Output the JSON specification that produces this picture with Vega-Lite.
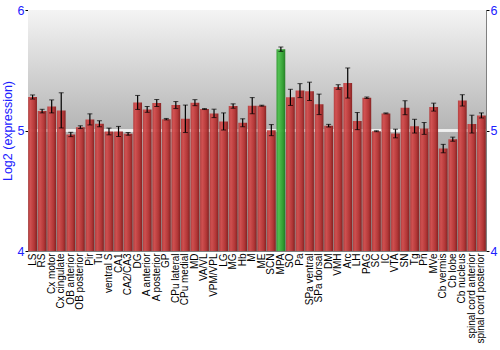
{
  "$schema": "https://vega.github.io/schema/vega-lite/v6.json",
  "width": 458,
  "height": 241,
  "autosize": {"type": "none"},
  "padding": {"left": 28, "top": 10, "right": 14, "bottom": 99},
  "background": "white",
  "config": {
    "font": "Liberation Sans",
    "view": {"stroke": "#808080", "strokeWidth": 1}
  },
  "data": {
    "values": [
      {"region": "LS", "mean": 5.278, "err": 0.017},
      {"region": "RS", "mean": 5.161, "err": 0.015},
      {"region": "Cx motor", "mean": 5.2, "err": 0.054},
      {"region": "Cx cingulate", "mean": 5.167, "err": 0.146},
      {"region": "OB anterior", "mean": 4.967, "err": 0.018},
      {"region": "OB posterior", "mean": 5.028, "err": 0.011},
      {"region": "Pir", "mean": 5.092, "err": 0.046},
      {"region": "Tu", "mean": 5.056, "err": 0.025},
      {"region": "ventral S", "mean": 4.992, "err": 0.028},
      {"region": "CA1", "mean": 4.992, "err": 0.042},
      {"region": "CA2/CA3", "mean": 4.972, "err": 0.011},
      {"region": "DG", "mean": 5.233, "err": 0.058},
      {"region": "A anterior", "mean": 5.175, "err": 0.024},
      {"region": "A posterior", "mean": 5.228, "err": 0.029},
      {"region": "GP", "mean": 5.094, "err": 0.006},
      {"region": "CPu lateral", "mean": 5.211, "err": 0.029},
      {"region": "CPu medial", "mean": 5.097, "err": 0.114},
      {"region": "MD", "mean": 5.231, "err": 0.025},
      {"region": "VA/VL", "mean": 5.178, "err": 0.004},
      {"region": "VPM/VPL", "mean": 5.142, "err": 0.035},
      {"region": "LG", "mean": 5.075, "err": 0.071},
      {"region": "MG", "mean": 5.203, "err": 0.018},
      {"region": "Hb", "mean": 5.064, "err": 0.033},
      {"region": "M", "mean": 5.206, "err": 0.067},
      {"region": "ME", "mean": 5.206, "err": 0.004},
      {"region": "SCN", "mean": 5.003, "err": 0.046},
      {"region": "MPA", "mean": 5.675, "err": 0.018},
      {"region": "SO", "mean": 5.275, "err": 0.067},
      {"region": "Pa", "mean": 5.331, "err": 0.058},
      {"region": "SPa ventral", "mean": 5.325, "err": 0.076},
      {"region": "SPa dorsal", "mean": 5.217, "err": 0.085},
      {"region": "DM", "mean": 5.04, "err": 0.011},
      {"region": "VMH", "mean": 5.361, "err": 0.019},
      {"region": "Arc", "mean": 5.394, "err": 0.125},
      {"region": "LH", "mean": 5.078, "err": 0.071},
      {"region": "PAG", "mean": 5.272, "err": 0.006},
      {"region": "SC", "mean": 4.994, "err": 0.004},
      {"region": "IC", "mean": 5.142, "err": 0.004},
      {"region": "VTA", "mean": 4.975, "err": 0.036},
      {"region": "SN", "mean": 5.189, "err": 0.058},
      {"region": "Tg", "mean": 5.036, "err": 0.057},
      {"region": "Pn", "mean": 5.017, "err": 0.049},
      {"region": "MVe", "mean": 5.194, "err": 0.033},
      {"region": "Cb vermis", "mean": 4.85, "err": 0.035},
      {"region": "Cb lobe", "mean": 4.928, "err": 0.017},
      {"region": "Cb nucleus", "mean": 5.25, "err": 0.047},
      {"region": "spinal cord anterior", "mean": 5.053, "err": 0.074},
      {"region": "spinal cord posterior", "mean": 5.125, "err": 0.021}
    ]
  },
  "layer": [
    {
      "mark": {
        "type": "rect",
        "fill": {
          "gradient": "linear",
          "x1": 0, "y1": 0, "x2": 0, "y2": 1,
          "stops": [
            {"offset": 0, "color": "#f4f4f4"},
            {"offset": 0.5, "color": "#b4b4b4"},
            {"offset": 1, "color": "#8a8a8a"}
          ]
        }
      },
      "encoding": {
        "y": {"datum": 6, "type": "quantitative", "scale": {"domain": [4, 6]}, "axis": null},
        "y2": {"datum": 4}
      }
    },
    {
      "mark": {"type": "rule", "color": "#f0f0f0", "strokeWidth": 1.5},
      "encoding": {
        "y": {"datum": 5, "type": "quantitative", "axis": null}
      }
    },
    {
      "mark": {"type": "bar", "opacity": 0.95},
      "encoding": {
        "x": {
          "field": "region",
          "type": "nominal",
          "sort": null,
          "scale": {"paddingInner": 0.08, "paddingOuter": 0.02},
          "axis": {
            "title": null,
            "labelAngle": -90,
            "labelFontSize": 10,
            "labelColor": "black",
            "labelPadding": 2,
            "labelOverlap": false,
            "ticks": false,
            "domain": false
          }
        },
        "y": {"field": "mean", "type": "quantitative", "axis": null},
        "y2": {"datum": 4},
        "fill": {
          "condition": {
            "test": "datum.region === 'MPA'",
            "value": {
              "gradient": "linear",
              "x1": 0, "y1": 0, "x2": 1, "y2": 0,
              "stops": [
                {"offset": 0, "color": "#2f9a2f"},
                {"offset": 0.25, "color": "#4cc04c"},
                {"offset": 0.7, "color": "#2fa02f"},
                {"offset": 1, "color": "#1e7a1e"}
              ]
            }
          },
          "value": {
            "gradient": "linear",
            "x1": 0, "y1": 0, "x2": 1, "y2": 0,
            "stops": [
              {"offset": 0, "color": "#b43a3a"},
              {"offset": 0.25, "color": "#d24c4c"},
              {"offset": 0.7, "color": "#b43232"},
              {"offset": 1, "color": "#841c1c"}
            ]
          }
        }
      }
    },
    {
      "mark": {"type": "errorbar", "ticks": {"size": 5, "color": "black"}, "rule": {"color": "black", "strokeWidth": 1.2}},
      "encoding": {
        "x": {"field": "region", "type": "nominal", "sort": null},
        "y": {"field": "mean", "type": "quantitative", "axis": null},
        "yError": {"field": "err"}
      }
    },
    {
      "mark": {"type": "rule", "opacity": 0},
      "encoding": {
        "y": {"datum": 5, "type": "quantitative",
              "axis": {
                "orient": "left",
                "title": "Log2 (expression)",
                "titleColor": "#2020ff",
                "titleFont": "Liberation Sans",
                "titleFontSize": 12.5,
                "titleFontWeight": "normal",
                "titlePadding": 3,
                "values": [4, 5, 6],
                "labelExpr": "format(datum.value, '.0f')",
                "labelColor": "#2020ff",
                "labelFontSize": 12.5,
                "labelFlush": false,
                "labelOverlap": false,
                "tickColor": "black",
                "tickSize": 3,
                "grid": false,
                "domainColor": "#808080",
                "labelPadding": 1
              }}
      }
    },
    {
      "mark": {"type": "rule", "opacity": 0},
      "encoding": {
        "y": {"datum": 5, "type": "quantitative",
              "axis": {
                "orient": "right",
                "title": null,
                "values": [4, 5, 6],
                "labelExpr": "format(datum.value, '.0f')",
                "labelColor": "#2020ff",
                "labelFontSize": 12.5,
                "labelFlush": false,
                "labelOverlap": false,
                "tickColor": "black",
                "tickSize": 3,
                "grid": false,
                "domainColor": "#808080",
                "labelPadding": 1
              }}
      }
    }
  ],
  "resolve": {"axis": {"y": "independent"}}
}
